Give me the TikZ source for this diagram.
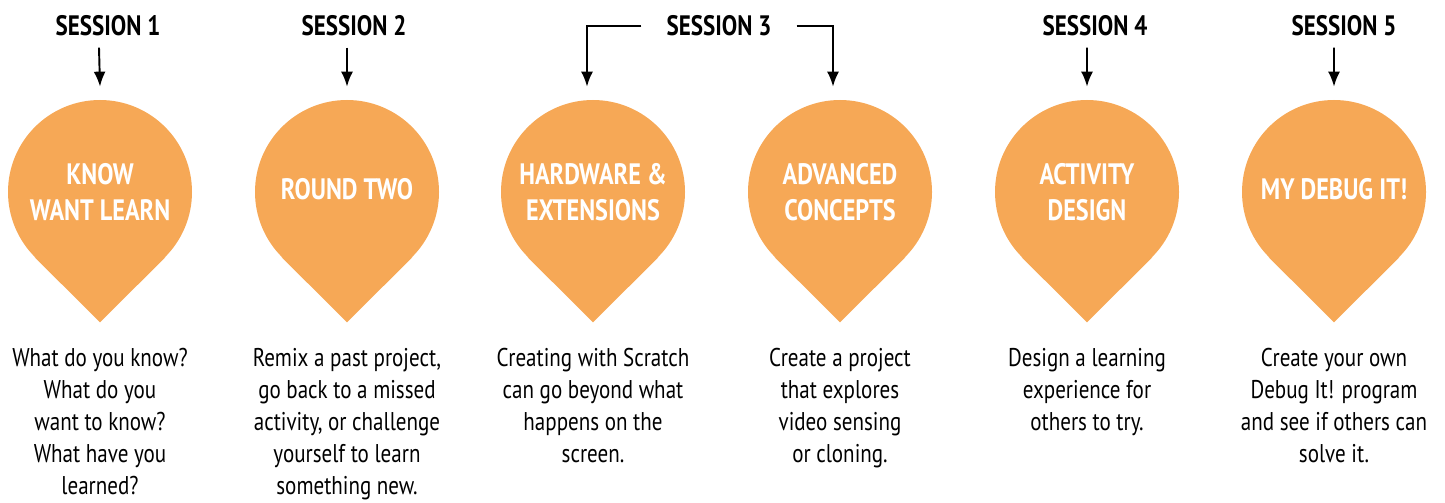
\documentclass[tikz,border=0pt]{standalone}
\usepackage{xcolor}
\usepackage{fontspec}
\setmainfont{PT Sans}[FakeStretch=0.82]
\usepackage{tikz}
\usetikzlibrary{arrows.meta}

\definecolor{droporange}{HTML}{F6A856}

\begin{document}
\begin{tikzpicture}[x=1cm,y=1cm,>={Latex[length=0.3cm,width=0.24cm]},
    drop/.style={circle, fill=droporange, minimum size=3.68cm, inner sep=0pt,
        text=white, font=\fontsize{16.8}{20.4}\selectfont\bfseries, align=center},
    session/.style={inner sep=0pt, font=\fontsize{16}{19}\selectfont\bfseries},
    desc/.style={anchor=north, inner sep=0pt, align=center,
        font=\fontsize{14.6}{18.2}\selectfont},
    arr/.style={->, line width=1.1pt}]
    \useasboundingbox (0,0) rectangle (28.9,10.04);

    % Drops
    \node[drop] (d1) at (2.00,6.20) {KNOW\\WANT LEARN};
    \node[drop] (d2) at (6.94,6.20) {\raisebox{0.14cm}{ROUND TWO}};
    \node[drop] (d3) at (11.86,6.20) {HARDWARE \&\\EXTENSIONS};
    \node[drop] (d4) at (16.80,6.20) {ADVANCED\\CONCEPTS};
    \node[drop] (d5) at (21.74,6.20) {ACTIVITY\\DESIGN};
    \node[drop] (d6) at (26.68,6.20) {\raisebox{0.14cm}{MY DEBUG IT!}};

    % Drop tips
    \fill[droporange] (d1.south east) -- ([yshift=-0.76cm]d1.south) -- (d1.south west) -- cycle;
    \fill[droporange] (d2.south east) -- ([yshift=-0.76cm]d2.south) -- (d2.south west) -- cycle;
    \fill[droporange] (d3.south east) -- ([yshift=-0.76cm]d3.south) -- (d3.south west) -- cycle;
    \fill[droporange] (d4.south east) -- ([yshift=-0.76cm]d4.south) -- (d4.south west) -- cycle;
    \fill[droporange] (d5.south east) -- ([yshift=-0.76cm]d5.south) -- (d5.south west) -- cycle;
    \fill[droporange] (d6.south east) -- ([yshift=-0.76cm]d6.south) -- (d6.south west) -- cycle;

    % Sessions
    \node[session] (s1) at (2.16,9.52) {SESSION 1};
    \node[session] (s2) at (7.08,9.52) {SESSION 2};
    \node[session] (s3) at (14.38,9.52) {SESSION 3};
    \node[session] (s4) at (21.90,9.52) {SESSION 4};
    \node[session] (s5) at (26.88,9.52) {SESSION 5};

    % Arrows
    \draw[arr] ([xshift=-0.18cm,yshift=-0.22cm]s1.south) -- ([yshift=0.26cm]d1.north);
    \draw[arr] ([xshift=-0.14cm,yshift=-0.22cm]s2.south) -- ([yshift=0.26cm]d2.north);
    \draw[arr] ([xshift=-0.5cm]s3.west) -| ([xshift=-0.12cm,yshift=0.26cm]d3.north);
    \draw[arr] ([xshift=0.5cm]s3.east) -| ([xshift=-0.14cm,yshift=0.26cm]d4.north);
    \draw[arr] ([xshift=-0.16cm,yshift=-0.22cm]s4.south) -- ([yshift=0.26cm]d5.north);
    \draw[arr] ([xshift=-0.2cm,yshift=-0.22cm]s5.south) -- ([yshift=0.26cm]d6.north);

    % Descriptions
    \node[desc] (t1) at (2.00,3.08) {What do you know?\\What do you\\want to know?\\What have you\\learned?};
    \node[desc] (t2) at (6.94,3.08) {Remix a past project,\\go back to a missed\\activity, or challenge\\yourself to learn\\something new.};
    \node[desc] (t3) at (11.86,3.08) {Creating with Scratch\\can go beyond what\\happens on the\\screen.};
    \node[desc] (t4) at (16.80,3.08) {Create a project\\that explores\\video sensing\\or cloning.};
    \node[desc] (t5) at (21.74,3.08) {Design a learning\\experience for\\others to try.};
    \node[desc] (t6) at (26.68,3.08) {Create your own\\Debug It! program\\and see if others can\\solve it.};
\end{tikzpicture}
\end{document}
